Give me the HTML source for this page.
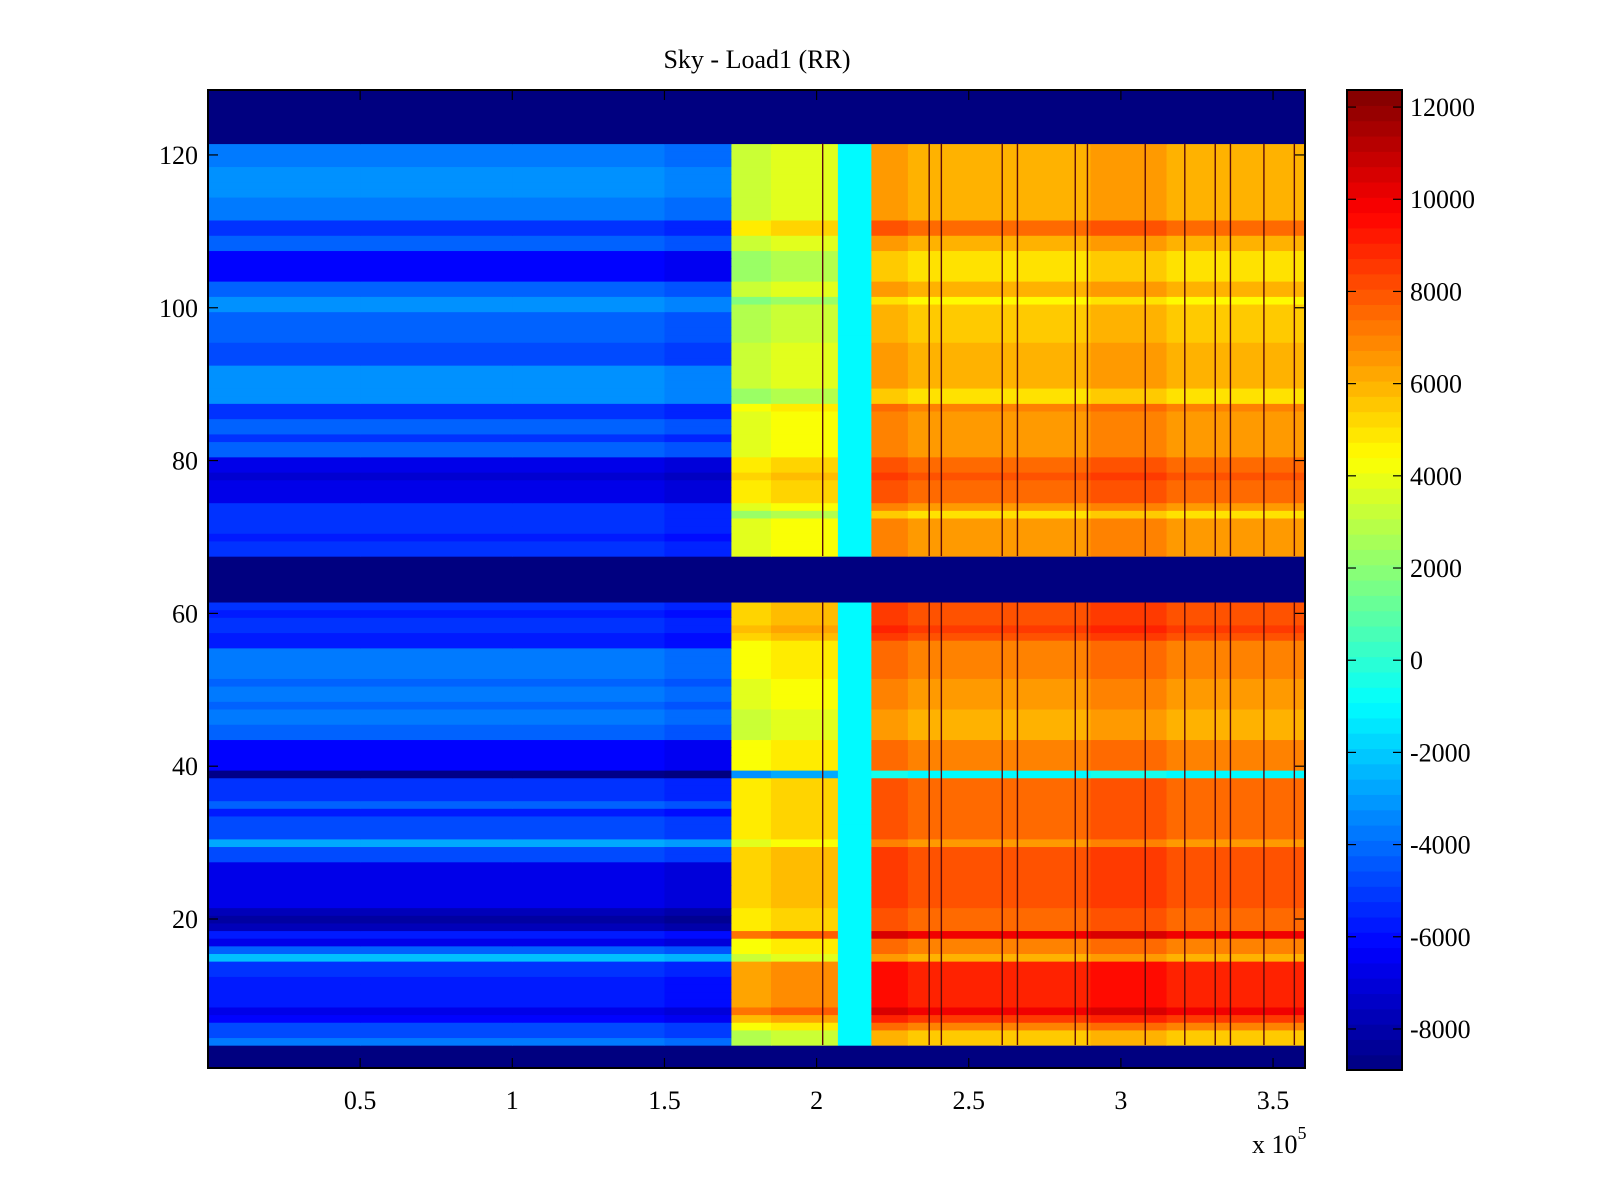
<!DOCTYPE html>
<html><head><meta charset="utf-8"><style>
body{margin:0;background:#fff;}
svg{display:block;font-family:"Liberation Serif",serif;}
</style></head><body>
<svg id="chart" width="1600" height="1200" xmlns="http://www.w3.org/2000/svg">
<rect width="1600" height="1200" fill="#fff"/>
<text x="757" y="68" font-size="26" text-anchor="middle">Sky - Load1 (RR)</text>
<g id="cells"></g>
<g id="vlines"></g>
<rect x="208" y="90" width="1097" height="978" fill="none" stroke="#000" stroke-width="2"/>
<g id="axes"></g>
<g id="cbar"></g>
<text x="1252" y="1153" font-size="26">x 10<tspan dy="-14" font-size="18">5</tspan></text>
</svg>
<script>
// ---- data ----
const xEdges = [0, 0.5, 1.0, 1.5, 1.72, 1.85, 2.07, 2.18, 2.3, 2.6, 2.9, 3.15, 3.605]; // x1e5
const colKind = ['b','b','b','b','y','y','c','o','o','o','o','o'];
const colOffset = [0, 0, 0, -300, 0, 500, 0, 500, 0, 0, 500, 0];
const emptyRows = [1,2,3,62,63,64,65,66,67,122,123,124,125,126,127,128];
// blue-region values, rows 1..128
const blueVals = [
 0,0,0,-3000,-4000,-4000,-5500,-6000,-5000,-5000,
 -5000,-5000,-4500,-4500,-1500,-3500,-6000,-5000,-7000,-7500,
 -7000,-6000,-6000,-6000,-6000,-6000,-6000,-4000,-4000,-2000,
 -4000,-4000,-4000,-5000,-3500,-4500,-4500,-4500,-8000,-5500,
 -5500,-5500,-5500,-3500,-3500,-3000,-3000,-3500,-3000,-3000,
 -3500,-3000,-3000,-3000,-3000,-5000,-5000,-4500,-4500,-5000,
 -4500,0,0,0,0,0,0,-4500,-4500,-5000,
 -4500,-4500,-4500,-4500,-6000,-6000,-6000,-6500,-6000,-6000,
 -3500,-3500,-4500,-3500,-3500,-4500,-4500,-2500,-2500,-2500,
 -2500,-2500,-4000,-4000,-4000,-3500,-3500,-3500,-3500,-2500,
 -2500,-3500,-3500,-5500,-5500,-5500,-5500,-3500,-3500,-4500,
 -4500,-3000,-3000,-3000,-2500,-2500,-2500,-2500,-3000,-3000,
 -3000,0,0,0,0,0,0,0];
// orange-region values, rows 1..128
const orangeVals = [
 0,0,0,5000,5000,6500,8000,9500,8500,8500,
 8500,8500,8500,8500,5500,6500,6500,9500,7000,7000,
 7000,7500,7500,7500,7500,7500,7500,7500,7500,6000,
 7000,7000,7000,7000,7000,7000,7000,7000,-1000,6500,
 6500,6500,6500,5500,5500,5500,5500,6000,6000,6000,
 6000,6500,6500,6500,6500,6500,7500,8000,7500,7500,
 7500,0,0,0,0,0,0,6000,6000,6000,
 6000,6000,4500,6000,7000,7000,7000,7500,7000,7000,
 6000,6000,6000,6000,6000,6000,6500,4500,4500,5500,
 5500,5500,5500,5500,5500,5000,5000,5000,5000,5000,
 4000,5500,5500,4500,4500,4500,4500,5500,5500,7000,
 7000,5500,5500,5500,5500,5500,5500,5500,5500,5500,
 5500,0,0,0,0,0,0,0];
const blueShift = -700;
const orangeShift = 500;
const yellowShift = -2200;
const cyanVal = -1000;
const lineX = [2.02, 2.37, 2.41, 2.61, 2.66, 2.85, 2.89, 3.08, 3.21, 3.31, 3.36, 3.47, 3.57];
const lineColor = '#5a0a0a';
const yTicks = [20, 40, 60, 80, 100, 120];
const xTicks = [0.5, 1, 1.5, 2, 2.5, 3, 3.5];
const xTickLabels = ['0.5','1','1.5','2','2.5','3','3.5'];
const cTicks = [-8000,-6000,-4000,-2000,0,2000,4000,6000,8000,10000,12000];

// ---- scales ----
const PL=208, PR=1305, PT=90, PB=1068;
const XMIN=0, XMAX=3.605, YMIN=0.5, YMAX=128.5;
const CMIN=-8890, CMAX=12370;
const xs = v => PL + (v-XMIN)/(XMAX-XMIN)*(PR-PL);
const ys = v => PT + (YMAX-v)/(YMAX-YMIN)*(PB-PT);
function jet(v){
  let t=(v-CMIN)/(CMAX-CMIN); t=Math.max(0,Math.min(1,t));
  const c=x=>Math.round(255*Math.max(0,Math.min(1,1.5-Math.abs(x))));
  return `rgb(${c(4*t-3)},${c(4*t-2)},${c(4*t-1)})`;
}
const NS='http://www.w3.org/2000/svg';
function mk(tag,attrs,parent){const e=document.createElementNS(NS,tag);for(const k in attrs)e.setAttribute(k,attrs[k]);parent.appendChild(e);return e;}

// ---- cells ----
const cells=document.getElementById('cells');
for(let r=1;r<=128;r++){
  const empty=emptyRows.includes(r);
  for(let c=0;c<colKind.length;c++){
    let v;
    if(empty) v=CMIN;
    else if(colKind[c]==='b') v=blueVals[r-1]+blueShift+colOffset[c];
    else if(colKind[c]==='y') v=orangeVals[r-1]+yellowShift+colOffset[c];
    else if(colKind[c]==='c') v=cyanVal;
    else v=orangeVals[r-1]+(orangeVals[r-1]>0?orangeShift:0)+colOffset[c];
    const x0=xs(xEdges[c]), x1=xs(xEdges[c+1]);
    const e=mk('rect',{x:x0,y:ys(r+0.5),width:x1-x0+0.6,height:ys(r-0.5)-ys(r+0.5)+0.6,fill:jet(v)},cells);
    
    
  }
}
// ---- vertical streaks ----
const vl=document.getElementById('vlines');
for(let i=0;i<lineX.length;i++){
  let r=4;
  while(r<=121){
    if(emptyRows.includes(r)){r++;continue;}
    let r2=r; while(r2+1<=121 && !emptyRows.includes(r2+1)) r2++;
    const e=mk('rect',{x:xs(lineX[i])-0.7,y:ys(r2+0.5),width:1.4,height:ys(r-0.5)-ys(r2+0.5),fill:lineColor},vl);
    
    
    r=r2+1;
  }
}
// ---- axes ----
const ax=document.getElementById('axes');
yTicks.forEach(t=>{
  const y=ys(t);
  mk('line',{x1:PL,x2:PL+10,y1:y,y2:y,stroke:'#000','stroke-width':1.2},ax);
  mk('line',{x1:PR,x2:PR-10,y1:y,y2:y,stroke:'#000','stroke-width':1.2},ax);
  const e=mk('text',{x:PL-10,y:y+9,'font-size':26,'text-anchor':'end'},ax);
  e.textContent=t;
  
  
});
xTicks.forEach((t,i)=>{
  const x=xs(t);
  mk('line',{x1:x,x2:x,y1:PB,y2:PB-10,stroke:'#000','stroke-width':1.2},ax);
  mk('line',{x1:x,x2:x,y1:PT,y2:PT+10,stroke:'#000','stroke-width':1.2},ax);
  const e=mk('text',{x:x,y:PB+41,'font-size':26,'text-anchor':'middle'},ax);
  e.textContent=xTickLabels[i];
  
  
});
// ---- colorbar ----
const cb=document.getElementById('cbar');
const CL=1347, CR=1402, CT=90, CB=1070;
const cy=v=>CB-(v-CMIN)/(CMAX-CMIN)*(CB-CT);
const N=64;
for(let i=0;i<N;i++){
  const y0=CB-(i+1)*(CB-CT)/N;
  mk('rect',{x:CL,y:y0,width:CR-CL,height:(CB-CT)/N+0.6,fill:jet(CMIN+(i+0.5)/N*(CMAX-CMIN))},cb);
}
mk('rect',{x:CL,y:CT,width:CR-CL,height:CB-CT,fill:'none',stroke:'#000','stroke-width':2},cb);
cTicks.forEach(t=>{
  const y=cy(t);
  mk('line',{x1:CL,x2:CL+9,y1:y,y2:y,stroke:'#000','stroke-width':1.2},cb);
  mk('line',{x1:CR,x2:CR-9,y1:y,y2:y,stroke:'#000','stroke-width':1.2},cb);
  const e=mk('text',{x:CR+8,y:y+9,'font-size':26},cb);
  e.textContent=t;
  
  
});
</script>
</body></html>
